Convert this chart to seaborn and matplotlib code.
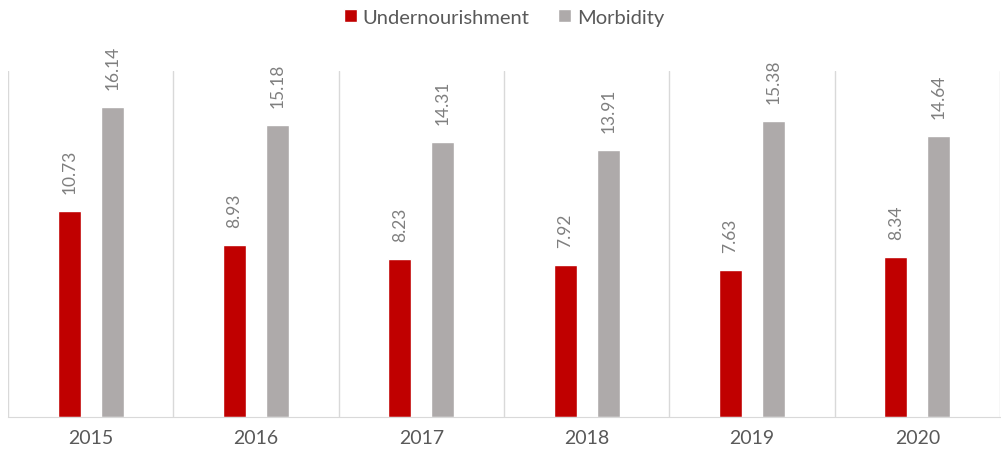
#Importing libraries
import pandas as pd
import matplotlib.pyplot as plt
import seaborn as sns

#Chart data
years = ["2015", "2016", "2017", "2018", "2019", "2020"]
undernourishment = [10.73, 8.93, 8.23, 7.92, 7.63, 8.34]
morbidity = [16.14, 15.18, 14.31, 13.91, 15.38, 14.64]
series_names = ["Undernourishment", "Morbidity"]

#Long-form table for seaborn
data = pd.DataFrame({
    "Year": years * 2,
    "Value": undernourishment + morbidity,
    "Series": [series_names[0]] * len(years) + [series_names[1]] * len(years),
})

sns.set_style("white")
plt.rcParams["font.family"] = ["Lato", "DejaVu Sans"]

fig = plt.figure(figsize=(10.01, 4.56), dpi=100)
ax = fig.add_axes([8 / 1001, 38 / 456, 992 / 1001, 346 / 456])

sns.barplot(data=data, x="Year", y="Value", hue="Series", order=years,
            hue_order=series_names, palette=["#C00000", "#AEAAAA"],
            width=0.52, gap=0.47, saturation=1, ax=ax)

#Value labels above the bars
for container in ax.containers:
    ax.bar_label(container, fmt="%.2f", rotation=90, padding=13,
                 color="#7F7F7F", fontsize=12.5)

#Vertical separators between the years
for i in range(len(years) + 1):
    ax.axvline(i - 0.5, color="#D9D9D9", linewidth=1, zorder=0)

ax.set_xlim(-0.5, len(years) - 0.5)
ax.set_ylim(0, 18)
ax.set_yticks([])
ax.set_xlabel("")
ax.set_ylabel("")
for side in ["top", "left", "right"]:
    ax.spines[side].set_visible(False)
ax.spines["bottom"].set_color("#D9D9D9")
ax.tick_params(axis="x", length=0, pad=9, labelsize=14, labelcolor="#595959")

#Legend at the top
handles, labels = ax.get_legend_handles_labels()
ax.legend(handles, labels, loc="center", bbox_to_anchor=(0.5, 1.156), ncol=2,
          frameon=False, fontsize=14.5, handlelength=0.65, handleheight=0.65,
          handletextpad=0.3, columnspacing=1.4, labelcolor="#595959")

fig.savefig("out.png", dpi=100)
